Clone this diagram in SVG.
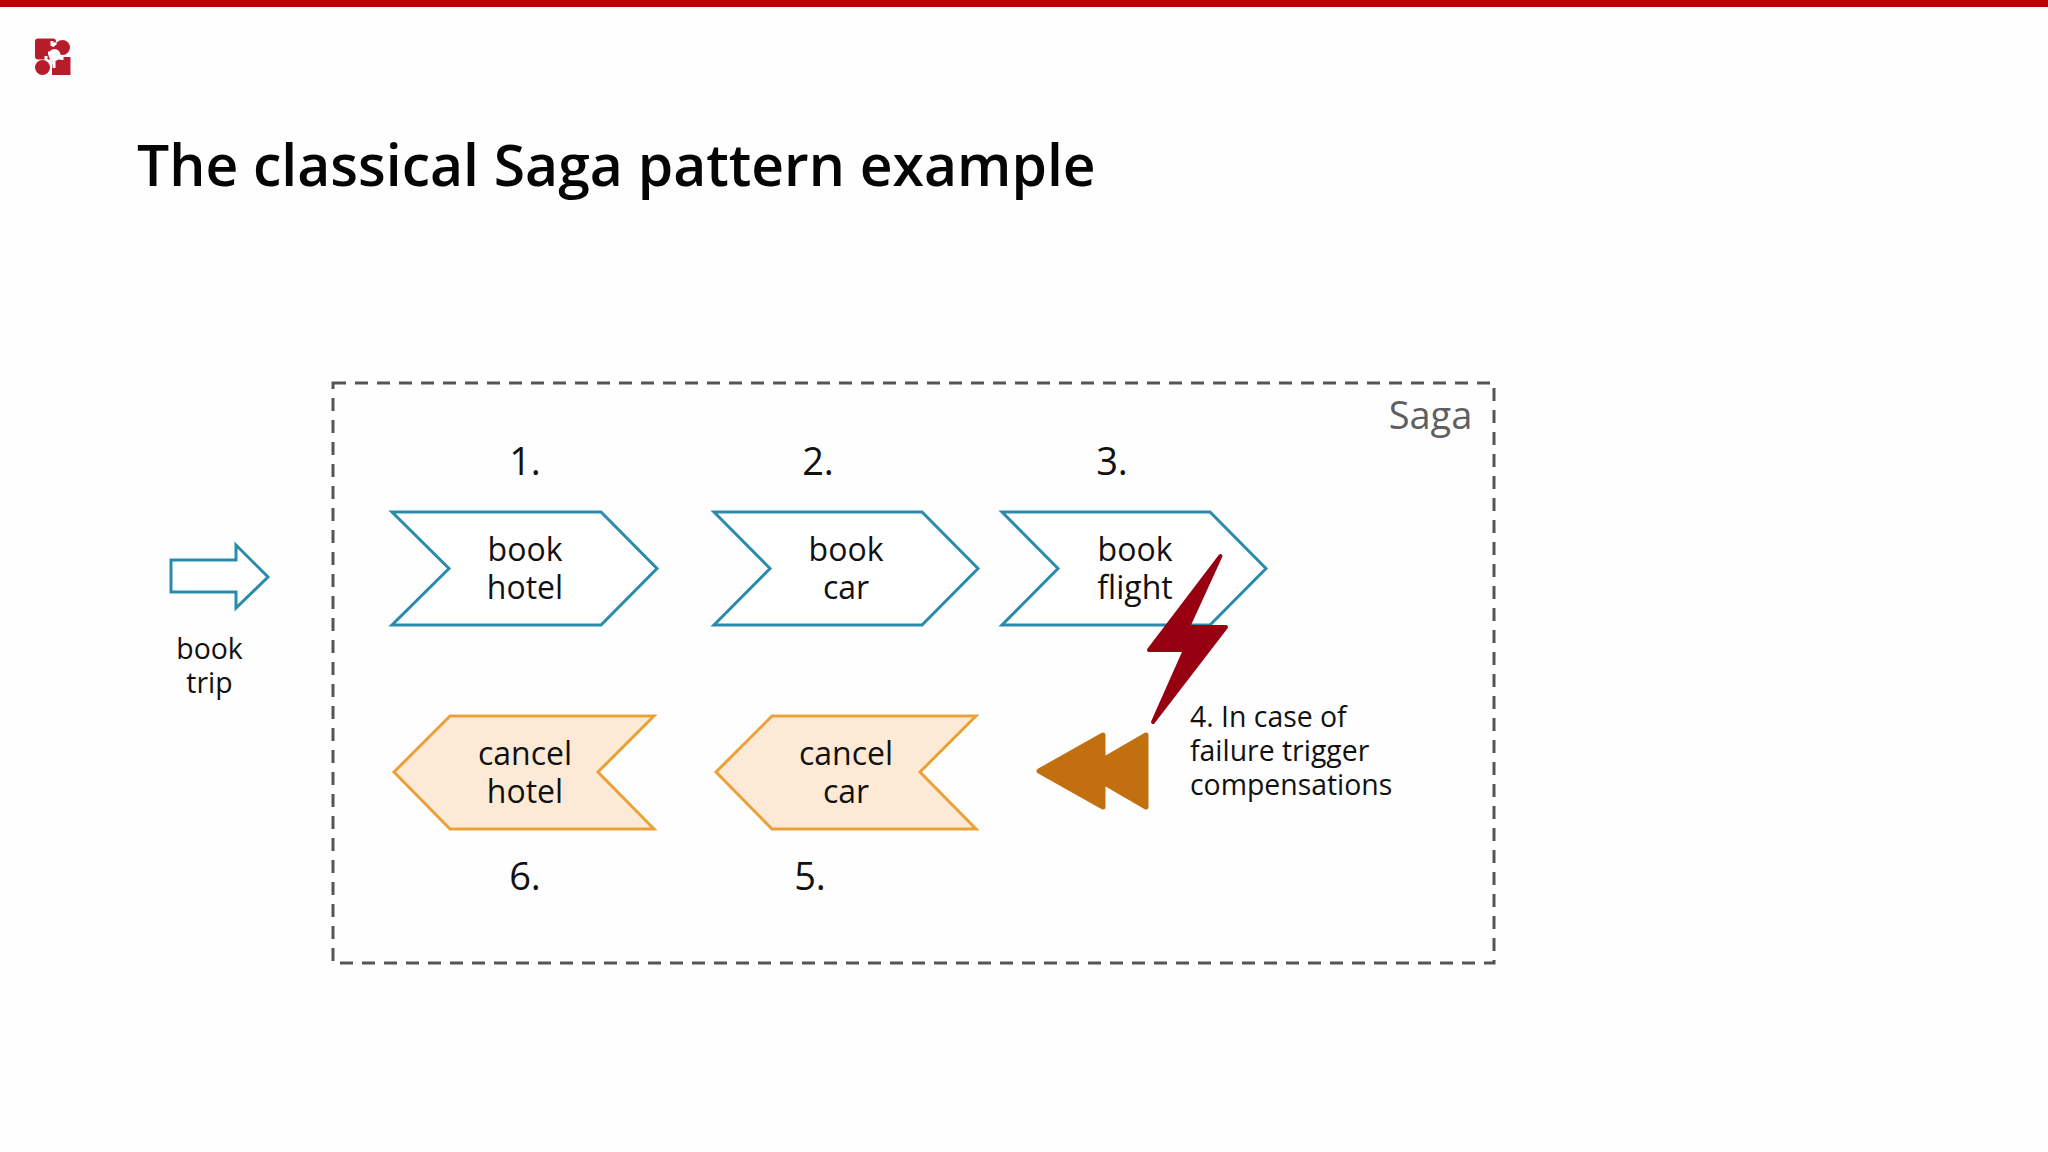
<svg xmlns="http://www.w3.org/2000/svg" width="2048" height="1152" viewBox="0 0 2048 1152">
<style>
text{font-family:"Open Sans","Noto Sans","Liberation Sans",sans-serif;fill:#111;text-anchor:middle}
.b{fill:#fff;stroke:#2a8bab;stroke-width:3;stroke-linejoin:miter}
.c{fill:#fdead6;stroke:#eba139;stroke-width:3}
.l{font-size:32px}
.n{font-size:38px}
.s{font-size:28.400px}
.r{fill:#b71c2b}
.w{fill:none;stroke:#fefefe;stroke-width:3}
</style>
<rect width="2048" height="1152" fill="#fefefe"/>
<rect width="2048" height="7" fill="#c00000"/>
<g id="logo">
<rect class="r" x="35" y="38.500" width="21" height="21" rx="3"/>
<circle class="r" cx="62.500" cy="47.500" r="7.500"/>
<circle class="r" cx="42.500" cy="67.500" r="7.500"/>
<rect class="r" x="52" y="57" width="18.500" height="18"/>
<path d="M52 41V46M52 46L56 43M48 53H56V60M46 60V56M58 55L61 59M54 60V68M50 63H55M62 56V60" class="w"/>
<circle cx="54.500" cy="55" r="6" fill="#fefefe"/>
</g>
<text x="137" y="186" style="text-anchor:start;font-size:57px;font-weight:600;fill:#050505">The classical Saga pattern example</text>
<g id="saga"><rect x="333" y="383" width="1161" height="580" fill="none" stroke="#555" stroke-width="3" stroke-dasharray="13 9"/>
<text x="1430.500" y="429" style="font-size:38px;fill:#5f5f5f">Saga</text></g>
<g id="book-trip"><path class="b" d="M171 560H236V545L268 577L236 608V592H171Z"/><text class="s" x="209.500" y="659">book</text><text class="s" x="209.500" y="693">trip</text></g>
<g id="book-hotel"><path class="b" d="M392 512H601L657 568.500L601 625H392L449 568.500Z"/><text class="l" x="525" y="561">book</text><text class="l" x="525" y="598.500">hotel</text><text class="n" x="525" y="475">1.</text></g>
<g id="book-car"><path class="b" d="M714 512H922L978 568.500L922 625H714L770 568.500Z"/><text class="l" x="846" y="561">book</text><text class="l" x="846" y="598.500">car</text><text class="n" x="818" y="475">2.</text></g>
<g id="book-flight"><path class="b" d="M1002 512H1210L1266 568.500L1210 625H1002L1058 568.500Z"/><text class="l" x="1135" y="561">book</text><text class="l" x="1135" y="598.500">flight</text><text class="n" x="1112" y="475">3.</text></g>
<g id="cancel-hotel"><path class="c" d="M394 772L450 716H654L598 772L654 829H450Z"/><text class="l" x="525" y="765">cancel</text><text class="l" x="525" y="802.500">hotel</text><text class="n" x="525" y="890">6.</text></g>
<g id="cancel-car"><path class="c" d="M716 772L772 716H976L920 772L976 829H772Z"/><text class="l" x="846" y="765">cancel</text><text class="l" x="846" y="802.500">car</text><text class="n" x="810" y="890">5.</text></g>
<g id="bolt"><path d="M1220.500 556L1188 627H1226L1153 722L1185 650H1149Z" fill="#960010" stroke="#960010" stroke-width="4" stroke-linejoin="round"/></g>
<g id="rewind"><path d="M1039 771L1103 735V760L1146 735V807L1103 782V807Z" fill="#c2700f" stroke="#c2700f" stroke-width="5" stroke-linejoin="round"/></g>
<g id="note" style="font-size:28.400px"><text x="1190" y="726.500" style="text-anchor:start">4. In case of</text><text x="1190" y="760.500" style="text-anchor:start">failure trigger</text><text x="1190" y="794.500" style="text-anchor:start">compensations</text></g>
</svg>
